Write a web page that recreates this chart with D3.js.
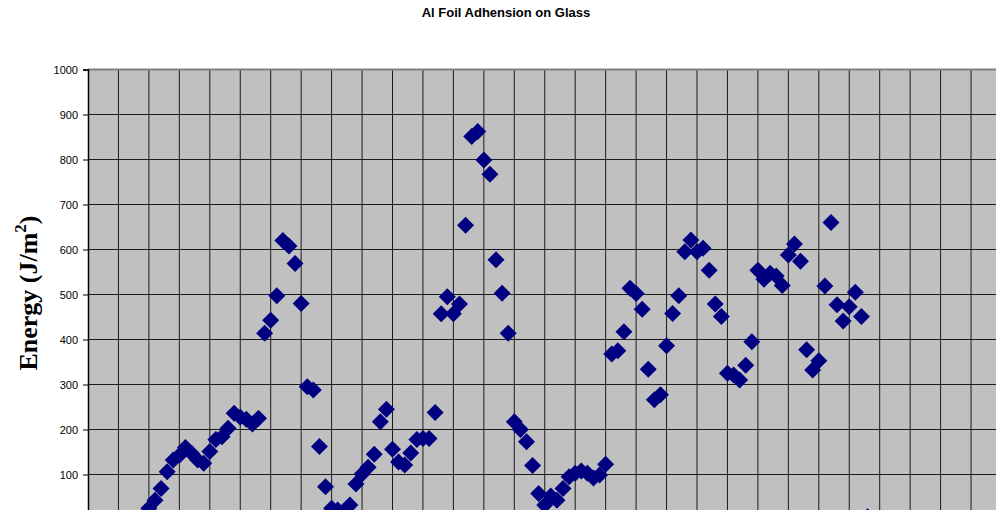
<!DOCTYPE html>
<html>
<head>
<meta charset="utf-8">
<script src="https://cdn.jsdelivr.net/npm/d3@7"></script>
<style>
  html, body { margin: 0; padding: 0; background: #fff; overflow: hidden; }
  svg { display: block; }
</style>
</head>
<body>
<svg id="chart" width="996" height="510"></svg>
<script>
// Peel position (mm), sampled every 0.2 mm starting at 2.0
const startPosition = 2.0;
const positionStep = 0.2;

// Measured adhesion energy (J/m^2) at each position
const energy = [
  25, 43, 69, 106, 132, 143, 160, 147, 132, 125,
  151, 178, 184, 203, 236, 227, 223, 212, 225, 414,
  443, 497, 620, 608, 569, 480, 295, 288, 162, 73,
  25, 21, 18, 32, 79, 101, 116, 145, 217, 245,
  156, 128, 121, 148, 178, 180, 180, 238, 457, 495,
  457, 479, 654, 851, 862, 799, 767, 577, 503, 414,
  217, 200, 173, 120, 58, 32, 52, 43, 69, 95,
  103, 108, 103, 92, 99, 123, 368, 375, 417, 514,
  502, 467, 334, 266, 277, 386, 458, 497, 595, 621,
  595, 603, 554, 479, 451, 325, 321, 310, 343, 395,
  554, 534, 547, 541, 520, 588, 612, 574, 377, 332,
  353, 519, 660, 477, 441, 473, 505, 451, 6
];

const positions = energy.map((_, i) => +(startPosition + i * positionStep).toFixed(1));

const yTicks = [100, 200, 300, 400, 500, 600, 700, 800, 900, 1000];
const xGrid = d3.range(0, 31, 1);

const chartTitle = "Al Foil Adhension on Glass";

const svg = d3.select("#chart");

const plot = { left: 88, top: 69.5, right: 1001.5, bottom: 519.5 };

const x = d3.scaleLinear().domain([0, 30]).range([plot.left, plot.right]);
const y = d3.scaleLinear().domain([0, 1000]).range([plot.bottom, plot.top]);

// Title
svg.append("text")
  .attr("x", 506)
  .attr("y", 17)
  .attr("text-anchor", "middle")
  .style("font-family", "Arial, 'Liberation Sans', sans-serif")
  .style("font-weight", "bold")
  .style("font-size", "13px")
  .text(chartTitle);

// Plot background
svg.append("rect")
  .attr("x", plot.left)
  .attr("y", plot.top)
  .attr("width", plot.right - plot.left)
  .attr("height", plot.bottom - plot.top)
  .attr("fill", "#c0c0c0");

// Vertical gridlines
svg.append("g")
  .selectAll("line")
  .data(xGrid.slice(1))
  .join("line")
  .attr("x1", d => x(d))
  .attr("x2", d => x(d))
  .attr("y1", plot.top)
  .attr("y2", plot.bottom)
  .attr("stroke", "#1a1a1a")
  .attr("stroke-width", 1);

// Horizontal gridlines
svg.append("g")
  .selectAll("line")
  .data(yTicks)
  .join("line")
  .attr("x1", plot.left)
  .attr("x2", plot.right)
  .attr("y1", d => y(d))
  .attr("y2", d => y(d))
  .attr("stroke", "#1a1a1a")
  .attr("stroke-width", 1);

// Top border of the plot area
svg.append("line")
  .attr("x1", plot.left).attr("x2", plot.right)
  .attr("y1", plot.top).attr("y2", plot.top)
  .attr("stroke", "#808080")
  .attr("stroke-width", 2);

// Y axis
const yAxis = svg.append("g")
  .attr("transform", `translate(${plot.left},0)`)
  .call(d3.axisLeft(y).tickValues(yTicks).tickSize(5).tickPadding(5).tickFormat(d3.format("d")));
yAxis.select(".domain").attr("stroke", "#000").attr("stroke-width", 1.5);
yAxis.selectAll(".tick line").attr("stroke", "#000");
yAxis.selectAll(".tick text")
  .style("font-family", "Arial, 'Liberation Sans', sans-serif")
  .style("font-size", "11px")
  .attr("fill", "#000");

// Y axis title
const yTitle = svg.append("text")
  .attr("transform", "translate(37,293) rotate(-90)")
  .attr("text-anchor", "middle")
  .style("font-family", "'Times New Roman', 'Liberation Serif', serif")
  .style("font-weight", "bold")
  .style("font-size", "26px");
yTitle.append("tspan").text("Energy (J/m");
yTitle.append("tspan").attr("dy", "-11").style("font-size", "17px").text("2");
yTitle.append("tspan").attr("dy", "11").text(")");

// Data markers
const diamond = "M0,-8.5L8.5,0L0,8.5L-8.5,0Z";
svg.append("g")
  .selectAll("path")
  .data(positions.map((p, i) => ({ p, e: energy[i] })))
  .join("path")
  .attr("d", diamond)
  .attr("transform", d => `translate(${x(d.p)},${y(d.e)})`)
  .attr("fill", "#000080");
</script>
</body>
</html>
